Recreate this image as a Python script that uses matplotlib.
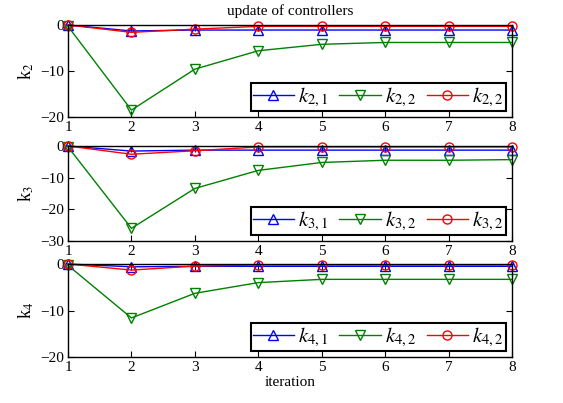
import matplotlib
matplotlib.use("Agg")
import matplotlib.pyplot as plt

plt.rcParams['font.family'] = ['Liberation Serif', 'DejaVu Serif']
plt.rcParams['mathtext.fontset'] = 'stix'

iterations = [1, 2, 3, 4, 5, 6, 7, 8]

k2_1 = [0, -1.3, -1.1, -1.1, -1.1, -1.1, -1.1, -1.1]
k2_2 = [-0.3, -18.5, -9.6, -5.6, -4.2, -3.8, -3.8, -3.8]
k2_3 = [0, -1.6, -0.9, -0.3, -0.3, -0.3, -0.3, -0.3]

k3_1 = [0, -1.6, -1.3, -1.3, -1.3, -1.3, -1.3, -1.3]
k3_2 = [-0.3, -26, -13.4, -7.7, -5.2, -4.5, -4.5, -4.3]
k3_3 = [0, -2.6, -1.5, -0.3, -0.3, -0.3, -0.3, -0.3]

k4_1 = [0, -0.6, -0.5, -0.5, -0.5, -0.5, -0.5, -0.5]
k4_2 = [-0.3, -11.6, -6.3, -4.0, -3.3, -3.3, -3.3, -3.3]
k4_3 = [0, -1.3, -0.45, -0.2, -0.2, -0.2, -0.2, -0.2]

ylabels = ['k$_{2}$', 'k$_{3}$', 'k$_{4}$']
legend_labels = [[r'$k_{2,1}$', r'$k_{2,2}$', r'$k_{2,2}$'],
                 [r'$k_{3,1}$', r'$k_{3,2}$', r'$k_{3,2}$'],
                 [r'$k_{4,1}$', r'$k_{4,2}$', r'$k_{4,2}$']]
series = [(k2_1, k2_2, k2_3), (k3_1, k3_2, k3_3), (k4_1, k4_2, k4_3)]
ylims = [(-20, 0), (-30, 0), (-20, 0)]
yticks = [[-20, -10, 0], [-30, -20, -10, 0], [-20, -10, 0]]

fig = plt.figure(figsize=(5.63, 4.03), dpi=100)
positions = [[0.1208, 0.7097, 0.7886, 0.2283],
             [0.1208, 0.402, 0.7886, 0.2357],
             [0.1208, 0.1141, 0.7886, 0.2308]]

colors = ['#0000ff', '#008000', '#ff0000']
markers = ['^', 'v', 'o']

for i, pos in enumerate(positions):
    ax = fig.add_axes(pos)
    for s, c, m, lab in zip(series[i], colors, markers, legend_labels[i]):
        ax.plot(iterations, s, color=c, marker=m, markersize=6.5, markerfacecolor='none',
                markeredgecolor=c, linewidth=1, label=lab, clip_on=False)
    ax.set_xlim(1, 8)
    ax.set_ylim(*ylims[i])
    ax.set_xticks(iterations)
    ax.set_yticks(yticks[i])
    ax.set_yticklabels([('\u2212' + str(-t)) if t < 0 else str(t) for t in yticks[i]])
    ax.tick_params(direction='in', top=True, right=True, labelsize=11, length=4, pad=3)
    ax.set_ylabel(ylabels[i], fontsize=13, labelpad=3)
    for sp in ax.spines.values():
        sp.set_linewidth(1)
    leg = ax.legend(loc='lower right', ncol=3, fontsize=15, frameon=True, fancybox=False,
                    edgecolor='black', framealpha=1, borderaxespad=0.3, handlelength=2.0,
                    columnspacing=0.5, handletextpad=0.2, borderpad=0.1)
    leg.get_frame().set_linewidth(1.5)
    if i == 0:
        ax.set_title('update of controllers', fontsize=11, pad=7)
    if i == 2:
        ax.set_xlabel('iteration', fontsize=11, labelpad=1)

fig.savefig('out.png', dpi=100)
